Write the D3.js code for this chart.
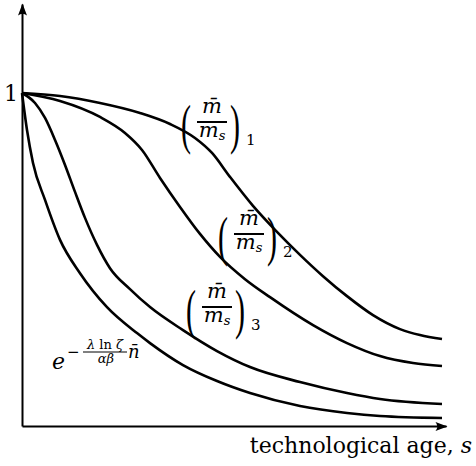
<!DOCTYPE html>
<html>
<head>
<meta charset="utf-8">
<script src="https://cdn.jsdelivr.net/npm/d3@7"></script>
<style>
  body { margin: 0; background: #fff; }
  svg text { fill: #000; }
</style>
</head>
<body>
<svg id="chart" width="476" height="466"></svg>
<script>
// technological age s (0..10) and relative value (1 at s = 0)
const ageA = [0, 0.905, 1.857, 2.810, 3.524, 4.119, 4.524, 4.952, 5.500, 6.071, 6.619, 7.167, 7.738, 8.357, 9.0, 9.476, 10];
const curveA = [1, 0.991, 0.970, 0.940, 0.907, 0.865, 0.820, 0.748, 0.661, 0.583, 0.514, 0.450, 0.390, 0.333, 0.291, 0.273, 0.261];

const ageB = [0, 0.905, 1.857, 2.452, 2.857, 3.286, 3.762, 4.238, 4.714, 5.310, 5.905, 6.929, 7.738, 8.524, 9.310, 10];
const curveB = [1, 0.976, 0.928, 0.880, 0.829, 0.745, 0.658, 0.577, 0.508, 0.441, 0.387, 0.303, 0.249, 0.210, 0.189, 0.180];

const ageC = [0, 0.310, 0.548, 0.786, 1.024, 1.262, 1.5, 1.786, 2.095, 2.571, 3.048, 3.833, 4.643, 5.429, 6.619, 7.738, 8.524, 10];
const curveC = [1, 0.970, 0.925, 0.859, 0.784, 0.703, 0.625, 0.544, 0.474, 0.411, 0.357, 0.288, 0.225, 0.177, 0.132, 0.099, 0.081, 0.066];

const ageD = [0, 0.119, 0.262, 0.548, 0.905, 1.381, 2.024, 2.738, 3.048, 3.833, 4.643, 5.429, 6.619, 7.738, 8.524, 10];
const curveD = [1, 0.889, 0.790, 0.679, 0.559, 0.459, 0.357, 0.279, 0.249, 0.183, 0.135, 0.099, 0.060, 0.039, 0.030, 0.024];

const yTickValues = [1];
const yTickLabels = ["1"];
const xAxisTitle = "technological age, ";
const xAxisVar = "s";

const svg = d3.select("#chart");

const x = d3.scaleLinear().domain([0, 10]).range([22, 442]);
const y = d3.scaleLinear().domain([0, 1]).range([426, 93]);

// arrow heads for the axes
svg.append("defs").append("marker")
    .attr("id", "arrow")
    .attr("markerUnits", "userSpaceOnUse")
    .attr("markerWidth", 16)
    .attr("markerHeight", 16)
    .attr("viewBox", "-14 -8 16 16")
    .attr("refX", 0)
    .attr("refY", 0)
    .attr("orient", "auto")
  .append("path")
    .attr("d", "M1,0 L-11,-4.5 Q-7.5,0 -11,4.5 Z")
    .attr("fill", "#000");

// axes drawn from extended copies of the scales so the lines reach the arrows
const xAxisScale = x.copy().domain([0, x.invert(446)]).range([22, 446]);
const yAxisScale = y.copy().domain([0, y.invert(4)]).range([426, 4]);

const gx = svg.append("g")
    .attr("transform", `translate(0,${y(0)})`)
    .call(d3.axisBottom(xAxisScale).tickValues([]).tickSizeOuter(0));

const gy = svg.append("g")
    .attr("transform", `translate(${x(0)},0)`)
    .call(d3.axisLeft(yAxisScale)
        .tickValues(yTickValues)
        .tickFormat((d, i) => yTickLabels[i])
        .tickSize(0)
        .tickSizeOuter(0)
        .tickPadding(4));

[gx, gy].forEach(g => {
    g.select(".domain")
        .attr("stroke", "#000")
        .attr("stroke-width", 2)
        .attr("marker-end", "url(#arrow)");
});
gy.selectAll(".tick text")
    .attr("font-family", "DejaVu Serif")
    .attr("font-size", 22);

// curves
const line = d3.line()
    .x(d => x(d[0]))
    .y(d => y(d[1]))
    .curve(d3.curveMonotoneX);

const series = [
    [ageA, curveA],
    [ageB, curveB],
    [ageC, curveC],
    [ageD, curveD]
];

svg.append("g").selectAll("path")
    .data(series.map(([s, v]) => s.map((d, i) => [d, v[i]])))
    .join("path")
    .attr("d", line)
    .attr("fill", "none")
    .attr("stroke", "#000")
    .attr("stroke-width", 2.6)
    .attr("stroke-linejoin", "round");

// (m̄ / m_s)_k labels
const mathFont = "DejaVu Serif";
const fracLabels = [
    {cx: 212, by: 122, sub: "1"},
    {cx: 249, by: 234, sub: "2"},
    {cx: 217, by: 307, sub: "3"}
];

fracLabels.forEach(l => {
    const g = svg.append("g").attr("transform", `translate(${l.cx},${l.by})`);
    g.append("text")
        .attr("transform", "translate(-26,21) scale(1,1.8)")
        .attr("text-anchor", "middle")
        .attr("font-family", "Liberation Serif")
        .attr("font-size", 30)
        .text("(");
    g.append("text")
        .attr("transform", "translate(23,21) scale(1,1.8)")
        .attr("text-anchor", "middle")
        .attr("font-family", "Liberation Serif")
        .attr("font-size", 30)
        .text(")");
    g.append("text")
        .attr("x", 0).attr("y", -9)
        .attr("text-anchor", "middle")
        .attr("font-family", mathFont)
        .attr("font-style", "italic")
        .attr("font-size", 21)
        .text("m\u0304");
    g.append("line")
        .attr("x1", -15).attr("x2", 15)
        .attr("y1", 0).attr("y2", 0)
        .attr("stroke", "#000")
        .attr("stroke-width", 2);
    const den = g.append("text")
        .attr("x", 0).attr("y", 15)
        .attr("text-anchor", "middle")
        .attr("font-family", mathFont)
        .attr("font-style", "italic")
        .attr("font-size", 21);
    den.append("tspan").text("m");
    den.append("tspan").attr("font-size", 13).attr("dy", 3).text("s");
    g.append("text")
        .attr("x", 34).attr("y", 23)
        .attr("font-family", mathFont)
        .attr("font-size", 15)
        .text(l.sub);
});

// e^{-λ ln ζ / αβ · n̄}
const eg = svg.append("g");
eg.append("text")
    .attr("x", 52).attr("y", 369)
    .attr("font-family", mathFont)
    .attr("font-style", "italic")
    .attr("font-size", 22)
    .text("e");
eg.append("text")
    .attr("x", 67).attr("y", 357)
    .attr("font-family", mathFont)
    .attr("font-size", 15)
    .text("\u2212");
const num = eg.append("text")
    .attr("x", 105).attr("y", 349)
    .attr("text-anchor", "middle")
    .attr("font-family", mathFont)
    .attr("font-size", 13);
num.append("tspan").attr("font-style", "italic").text("λ");
num.append("tspan").text(" ln ");
num.append("tspan").attr("font-style", "italic").text("ζ");
eg.append("line")
    .attr("x1", 83).attr("x2", 127)
    .attr("y1", 352).attr("y2", 352)
    .attr("stroke", "#000")
    .attr("stroke-width", 1);
eg.append("text")
    .attr("x", 106).attr("y", 363)
    .attr("text-anchor", "middle")
    .attr("font-family", mathFont)
    .attr("font-style", "italic")
    .attr("font-size", 13)
    .text("αβ");
eg.append("text")
    .attr("x", 128).attr("y", 358)
    .attr("font-family", mathFont)
    .attr("font-style", "italic")
    .attr("font-size", 18)
    .text("n\u0304");

// x axis title
const xt = svg.append("text")
    .attr("x", 472).attr("y", 453)
    .attr("text-anchor", "end")
    .attr("font-family", "DejaVu Serif")
    .attr("font-size", 22);
xt.append("tspan").text(xAxisTitle);
xt.append("tspan").attr("font-style", "italic").text(xAxisVar);
</script>
</body>
</html>
